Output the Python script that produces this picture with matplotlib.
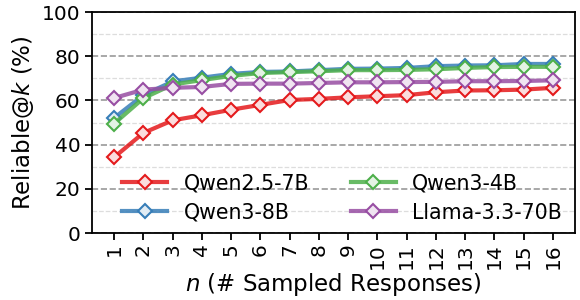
import matplotlib
matplotlib.use("Agg")
import matplotlib.pyplot as plt
from matplotlib.ticker import MultipleLocator
from matplotlib.colors import to_rgba, to_rgb

n_values = list(range(1, 17))
qwen25_7b = [34.3, 45.3, 51.0, 53.3, 55.8, 58.0, 60.2, 60.7, 61.4, 61.9, 62.4, 63.7, 64.5, 64.6, 64.9, 65.7]
qwen3_8b = [52.1, 62.4, 68.6, 70.3, 72.0, 72.9, 73.1, 73.7, 74.3, 74.4, 74.7, 75.5, 75.8, 75.9, 76.5, 76.5]
qwen3_4b = [49.5, 61.0, 67.2, 69.2, 71.1, 72.4, 72.8, 73.2, 73.7, 73.7, 73.8, 74.1, 74.7, 75.1, 75.2, 75.2]
llama33_70b = [61.1, 64.9, 65.7, 66.1, 67.5, 67.6, 67.6, 67.9, 68.2, 68.2, 68.3, 68.4, 68.7, 68.7, 68.8, 69.1]

series = [
    ("Qwen2.5-7B", qwen25_7b, "#e41a1c"),
    ("Qwen3-8B", qwen3_8b, "#377eb8"),
    ("Qwen3-4B", qwen3_4b, "#4daf4a"),
    ("Llama-3.3-70B", llama33_70b, "#984ea3"),
]


def light(c, a=0.15):
    r, g, b = to_rgb(c)
    return (1 - a + a * r, 1 - a + a * g, 1 - a + a * b)


fig = plt.figure(figsize=(5.8, 3.0), dpi=100)
ax = fig.add_axes([0.159, 0.223, 0.832, 0.737])

for label, vals, color in series:
    ax.plot(n_values, vals, color=to_rgba(color, 0.85), linewidth=3,
            marker="D", markersize=7.5, markerfacecolor=light(color),
            markeredgecolor=color, markeredgewidth=1.5, label=label)

ax.set_ylim(0, 100)
ax.set_xticks(n_values)
ax.set_xticklabels([str(v) for v in n_values], rotation=90)
ax.yaxis.set_major_locator(MultipleLocator(20))
ax.yaxis.set_minor_locator(MultipleLocator(10))
ax.tick_params(axis="y", which="minor", length=0)
ax.tick_params(axis="both", which="major", direction="out", length=5, width=1.3, labelsize=14.5)
ax.tick_params(axis="x", which="major", pad=2.5)
ax.grid(axis="y", which="major", linestyle="--", color="#999999", linewidth=1.2)
ax.grid(axis="y", which="minor", linestyle="--", color="#dddddd", linewidth=0.9)
ax.set_axisbelow(True)
for sp in ax.spines.values():
    sp.set_linewidth(1.3)

ax.set_ylabel("Reliable@$k$ (%)", fontsize=16.5)
ax.set_xlabel("$n$ (# Sampled Responses)", fontsize=16.5, labelpad=1)

ax.legend(ncol=2, loc="lower left", bbox_to_anchor=(0.045, 0.01), frameon=False,
          fontsize=14.8, handlelength=2.2, handletextpad=0.8, columnspacing=2.0,
          labelspacing=0.45, borderaxespad=0.0)

fig.savefig("out.png", dpi=100)
